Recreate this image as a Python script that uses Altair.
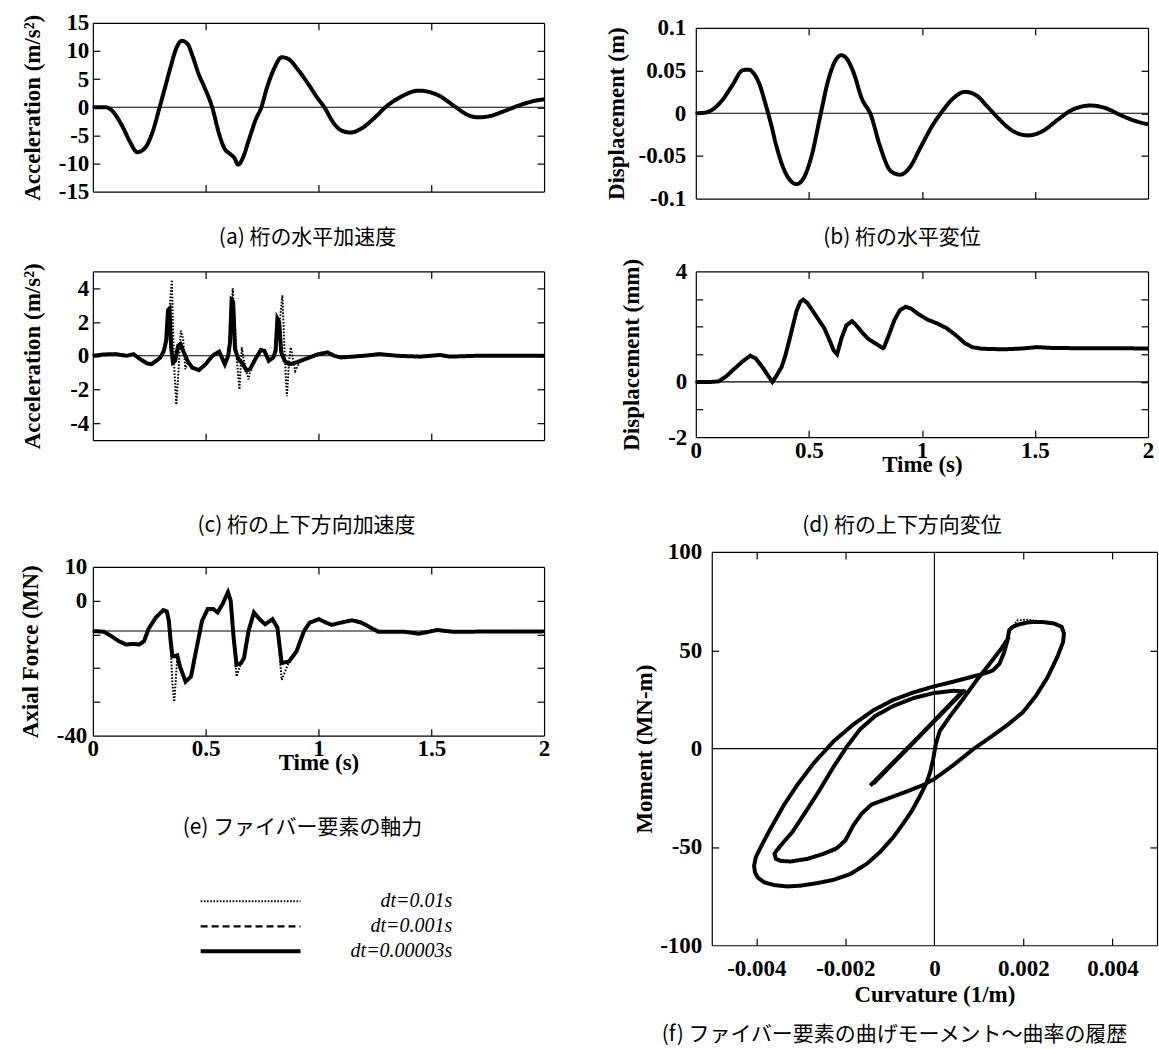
import altair as alt
import pandas as pd

FONT = "Liberation Serif"
JFONT = "Noto Sans CJK JP"

SERIES = ["dt=0.01s", "dt=0.001s", "dt=0.00003s"]
DASHES = [[1.6, 1.6], [7, 4], [1, 0]]
WIDTHS = [2.0, 2.2, 4.0]

# (a) horizontal acceleration of girder
A_T = [0, 0.057, 0.082, 0.131, 0.164, 0.197, 0.230, 0.263, 0.296, 0.320, 0.345, 0.369, 0.394, 0.419, 0.443,
       0.468, 0.493, 0.529, 0.558, 0.583, 0.608, 0.627, 0.644, 0.665, 0.690, 0.722, 0.747, 0.772, 0.805, 0.837,
       0.870, 0.903, 0.952, 0.993, 1.026, 1.067, 1.100, 1.141, 1.190, 1.248, 1.297, 1.363, 1.445, 1.527, 1.609,
       1.658, 1.708, 1.757, 1.823, 1.888, 1.954, 2.0]
A_V = [0, 0, -0.5, -3.4, -6.1, -8.0, -7.3, -4.6, 0, 3.5, 7.2, 10.4, 11.8, 11.3, 9.0, 6.0, 3.7, 0, -4.5, -7.3,
       -8.3, -9.0, -10.2, -9.0, -6.0, -2.2, 0, 3.5, 7.0, 8.9, 8.5, 7.0, 4.3, 1.8, 0, -2.8, -4.1, -4.5, -3.8, -1.9,
       0, 1.8, 2.95, 2.2, 0, -1.3, -1.8, -1.6, -0.7, 0.3, 1.1, 1.4]

# (b) horizontal displacement of girder
B_T = [0, 0.038, 0.078, 0.119, 0.160, 0.209, 0.234, 0.258, 0.283, 0.307, 0.332, 0.356, 0.397, 0.446, 0.479,
       0.512, 0.553, 0.585, 0.618, 0.643, 0.667, 0.700, 0.733, 0.774, 0.814, 0.863, 0.904, 0.945, 0.994, 1.043,
       1.092, 1.141, 1.191, 1.240, 1.289, 1.338, 1.403, 1.469, 1.534, 1.599, 1.665, 1.746, 1.812, 1.877, 1.943, 2.0]
B_V = [0, 0.0005, 0.005, 0.016, 0.032, 0.0505, 0.051, 0.046, 0.033, 0.012, -0.012, -0.038, -0.070, -0.083,
       -0.075, -0.050, 0, 0.038, 0.062, 0.068, 0.064, 0.046, 0.018, -0.002, -0.038, -0.068, -0.072, -0.064,
       -0.040, -0.016, 0.003, 0.018, 0.025, 0.021, 0.008, -0.006, -0.021, -0.026, -0.021, -0.008, 0.004, 0.009,
       0.006, -0.002, -0.009, -0.013]

# (c) vertical acceleration of girder
C_T = [0, 0.05, 0.10, 0.15, 0.18, 0.21, 0.24, 0.26, 0.28, 0.30, 0.315, 0.325, 0.333, 0.340, 0.347, 0.355, 0.365,
       0.378, 0.388, 0.40, 0.42, 0.44, 0.47, 0.50, 0.53, 0.56, 0.585, 0.60, 0.608, 0.615, 0.622, 0.630, 0.645,
       0.665, 0.680, 0.697, 0.72, 0.745, 0.76, 0.78, 0.80, 0.810, 0.818, 0.826, 0.835, 0.85, 0.87, 0.89, 0.92,
       0.96, 1.00, 1.04, 1.07, 1.10, 1.20, 1.27, 1.35, 1.45, 1.54, 1.58, 1.70, 2.00]
C_S = [0, 0.08, 0.1, 0.0, 0.1, -0.2, -0.45, -0.5, -0.3, -0.1, 0.3, 0.9, 2.7, 2.8, 0.5, -0.4, -0.3, 0.6, 0.7, 0.3,
       -0.3, -0.7, -0.85, -0.5, 0.0, 0.25, -0.5, 0.0, 0.8, 3.3, 3.2, 0.4, -0.2, -0.5, -0.85, -0.8, -0.2, 0.35, 0.3,
       -0.3, -0.1, 0.3, 2.2, 2.0, 0.2, -0.3, -0.5, -0.45, -0.3, -0.1, 0.1, 0.2, 0.0, -0.1, 0.0, 0.1, 0.0, -0.05,
       0.05, -0.05, 0, 0]
C_DT = [0, 0.05, 0.10, 0.15, 0.18, 0.21, 0.24, 0.26, 0.28, 0.30, 0.32, 0.33, 0.34, 0.35, 0.36, 0.37, 0.38, 0.39,
        0.40, 0.41, 0.42, 0.44, 0.47, 0.50, 0.53, 0.56, 0.585, 0.60, 0.61, 0.62, 0.63, 0.64, 0.65, 0.66, 0.67,
        0.68, 0.69, 0.70, 0.72, 0.745, 0.76, 0.78, 0.80, 0.81, 0.82, 0.83, 0.84, 0.85, 0.86, 0.87, 0.877, 0.887,
        0.897, 0.92, 0.96, 1.00, 1.04, 1.07, 1.10, 1.20, 1.27, 1.35, 1.45, 1.54, 1.58, 1.70, 2.00]
C_D = [0, 0.08, 0.1, 0.0, 0.1, -0.2, -0.45, -0.5, -0.3, -0.1, 0.4, 1.0, 2.8, 4.5, -0.5, -2.9, -0.8, 1.5, 1.0,
       -0.8, -0.4, -0.7, -0.85, -0.5, 0.0, 0.25, -0.5, 0.0, 1.5, 4.0, 1.8, -0.5, -2.0, 0.5, -0.3, -0.9, -1.4,
       -0.7, -0.2, 0.35, 0.3, -0.3, -0.1, 0.3, 1.0, 2.2, 3.6, 0.2, -2.4, -0.3, 0.5, -0.2, -0.9, -0.3, -0.1, 0.1,
       0.2, 0.0, -0.1, 0.0, 0.1, 0.0, -0.05, 0.05, -0.05, 0, 0]

# (d) vertical displacement of girder
D_T = [0, 0.069, 0.101, 0.134, 0.167, 0.208, 0.241, 0.265, 0.298, 0.322, 0.339, 0.355, 0.380, 0.396, 0.421,
       0.445, 0.462, 0.475, 0.494, 0.519, 0.543, 0.568, 0.592, 0.609, 0.625, 0.645, 0.666, 0.691, 0.715, 0.740,
       0.764, 0.789, 0.813, 0.830, 0.854, 0.879, 0.903, 0.928, 0.953, 0.985, 1.026, 1.067, 1.108, 1.149, 1.190,
       1.223, 1.264, 1.362, 1.444, 1.509, 1.574, 1.689, 1.852, 2.0]
D_V = [0, 0, 0.02, 0.2, 0.45, 0.75, 0.95, 0.85, 0.5, 0.2, 0.0, 0.2, 0.55, 0.95, 1.75, 2.55, 2.9, 2.98, 2.85,
       2.55, 2.25, 1.95, 1.5, 1.15, 1.0, 1.6, 2.05, 2.2, 2.0, 1.75, 1.55, 1.42, 1.3, 1.2, 1.7, 2.25, 2.6, 2.72,
       2.65, 2.45, 2.25, 2.12, 1.95, 1.7, 1.4, 1.26, 1.2, 1.18, 1.21, 1.26, 1.23, 1.22, 1.22, 1.21]

# (e) axial force of fiber element
E_T = [0, 0.049, 0.082, 0.115, 0.148, 0.181, 0.205, 0.227, 0.246, 0.279, 0.312, 0.328, 0.337, 0.345, 0.353,
       0.361, 0.374, 0.386, 0.411, 0.435, 0.460, 0.484, 0.509, 0.534, 0.553, 0.575, 0.599, 0.611, 0.624, 0.637,
       0.657, 0.670, 0.690, 0.714, 0.739, 0.764, 0.796, 0.818, 0.837, 0.870, 0.903, 0.936, 0.961, 1.002, 1.034,
       1.059, 1.100, 1.149, 1.190, 1.232, 1.264, 1.379, 1.445, 1.527, 1.593, 2.0]
E_S = [-9, -9.2, -10.5, -12, -13, -12.8, -13, -12, -8.5, -5, -2.8, -3.2, -6, -12, -16.5, -16.5, -16.2, -19.5,
       -24, -22.5, -14, -6, -2.5, -2.5, -3.5, -1, 2.5, 0, -11, -19, -18.5, -17, -9, -3.5, -5.5, -7, -5.5, -8,
       -18.5, -18, -15, -9, -6.5, -5.5, -6.5, -7.2, -6.5, -5.8, -6.5, -8, -9.2, -9.2, -9.8, -8.7, -9.2, -9.1]
E_D = [-9, -9.2, -10.5, -12, -13, -12.8, -13, -12, -8.5, -5, -2.8, -3.2, -6, -14, -25, -30, -17, -19.5, -24,
       -22.5, -14, -6, -2.5, -2.5, -3.5, -1, 2.5, 0, -12, -22.5, -18.5, -17, -9, -3.5, -5.5, -7, -5.5, -8, -23.5,
       -18, -15, -9, -6.5, -5.5, -6.5, -7.2, -6.5, -5.8, -6.5, -8, -9.2, -9.2, -9.8, -8.7, -9.2, -9.1]
E_BASE = -9

# (f) moment-curvature history, path segments
S1_K = [-0.00144, 0.00068, -0.00137, 0.00063]
S1_M = [-18.8, 29.7, -17.8, 29.1]
S2_K = [0.00042, -0.00003, -0.00048, -0.00092, -0.00133, -0.00167, -0.00196, -0.00226, -0.00260, -0.00289,
        -0.00319, -0.00342, -0.00356, -0.00359]
S2_M = [29.4, 28.2, 25.6, 21.7, 16.6, 9.8, 1.2, -9.1, -21.9, -32.1, -42.4, -48.4, -52.3, -53.5]
S3_K = [-0.00356, -0.00345, -0.00323, -0.00286, -0.00249, -0.00219, -0.00200, -0.00182, -0.00163, -0.00141,
        -0.00100, -0.00063, -0.00025, 0.0, 0.00042, 0.00086, 0.00124, 0.00161, 0.00198, 0.00228, 0.00254,
        0.00276, 0.00289, 0.00291]
S3_M = [-56.1, -57.1, -57.4, -56.1, -53.5, -50.6, -46.7, -39.0, -33.0, -28.4, -25.0, -21.9, -18.5, -15.4, -8.5,
        -0.5, 5.5, 11.5, 18.3, 26.8, 36.2, 46.5, 54.2, 58.5]
S3D_K = [-0.00356, -0.00345, -0.00323, -0.00286, -0.00249, -0.00224, -0.00205, -0.00182, -0.00163, -0.00141,
         -0.00100, -0.00063, -0.00025, 0.0, 0.00042, 0.00086, 0.00124, 0.00161, 0.00198, 0.00228, 0.00254,
         0.00276, 0.00289, 0.00291]
S3D_M = [-56.1, -57.1, -57.4, -56.1, -53.5, -52.0, -47.5, -39.0, -33.0, -28.4, -25.0, -21.9, -18.5, -15.4, -8.5,
         -0.5, 5.5, 11.5, 18.3, 26.8, 36.2, 46.5, 54.2, 58.5]
S4_K = [0.00286, 0.00269, 0.00243, 0.00213, 0.00190, 0.00176, 0.00168]
S4_M = [61.9, 63.6, 64.4, 64.3, 63.2, 61.9, 60.2]
S4D_K = [0.00286, 0.00269, 0.00243, 0.00211, 0.00186, 0.00176, 0.00168]
S4D_M = [61.9, 63.6, 64.4, 65.6, 65.2, 61.9, 60.2]
S5_K = [0.00164, 0.00157, 0.00146, 0.00131, 0.00116, 0.00079, 0.00042, -0.00003, -0.00048, -0.00092, -0.00137,
        -0.00182, -0.00226, -0.00271, -0.00308, -0.00338, -0.00368, -0.00390, -0.00401, -0.00405]
S5_M = [55.0, 49.1, 43.1, 39.7, 38.5, 36.2, 34.0, 31.5, 28.5, 24.8, 19.5, 12.3, 3.8, -7.4, -18.5, -28.7, -40.7,
        -50.1, -55.2, -59.5]
S6_K = [-0.00403, -0.00397, -0.00382, -0.00360, -0.00330, -0.00301, -0.00263, -0.00226, -0.00189, -0.00152,
        -0.00122, -0.00092, -0.00070, -0.00051, -0.00033, -0.00018, -0.00009, -0.00003, 0.00003, 0.00012, 0.00034,
        0.00064, 0.00094, 0.00124, 0.00150, 0.00168]
S6_M = [-62.9, -65.5, -68.0, -69.4, -70.1, -69.7, -68.4, -66.7, -63.8, -58.6, -52.6, -45.0, -38.1, -31.8, -24.4,
        -17.6, -11.6, -5.6, 2.1, 8.9, 16.1, 25.1, 34.5, 43.1, 50.8, 56.8]
S6D_K = [-0.00403, -0.00397, -0.00382, -0.00360, -0.00330, -0.00301, -0.00263, -0.00226, -0.00189, -0.00152,
         -0.00122, -0.00095, -0.00077, -0.00051, -0.00033, -0.00018, -0.00009, -0.00003, 0.00003, 0.00012,
         0.00034, 0.00064, 0.00094, 0.00124, 0.00150, 0.00168]
S6D_M = [-62.9, -65.5, -68.0, -69.4, -70.1, -69.7, -68.4, -66.7, -63.8, -58.6, -52.6, -45.8, -39.6, -31.8, -24.4,
         -17.6, -11.6, -5.6, 2.1, 8.9, 16.1, 25.1, 34.5, 43.1, 50.8, 56.8]

F_K = S1_K + S2_K + S3_K + S4_K + S5_K + S6_K
F_M = S1_M + S2_M + S3_M + S4_M + S5_M + S6_M
F_DK = S1_K + S2_K + S3D_K + S4D_K + S5_K + S6D_K
F_DM = S1_M + S2_M + S3D_M + S4D_M + S5_M + S6D_M

TIME_TICKS = [0.5, 1, 1.5]
TIME_LABELS = [0, 0.5, 1, 1.5, 2]
TICK = 7


def frame(series_lists):
    rows = []
    for name, (xs, ys) in zip(SERIES, series_lists):
        for i, (x, y) in enumerate(zip(xs, ys)):
            rows.append({"x": x, "y": y, "series": name, "i": i})
    return pd.DataFrame(rows)


def guide(orient, vals=None, offset=0, ticks=False, domain=False):
    kw = dict(orient=orient, offset=offset, labels=False, grid=False, title=None, domain=domain,
              domainColor="black", domainWidth=1.2, ticks=ticks)
    if ticks:
        kw.update(values=vals, tickSize=TICK, tickWidth=1.2, tickColor="black")
    return alt.Axis(**kw)


def panel(df, xdom, ydom, xt, yt, ylab, ytitle, ytx, w, h, cap, cap_off, cap_dx, ml=0, mt=0, xlab=None,
          xtitle=None, xlpad=2, xtpad=-9, ylpad=6, hline=None, vline=None, interp="linear", ordered=False,
          legend=None):
    xs = alt.Scale(domain=xdom, nice=False, zero=False, range=[ml, ml + w])
    ys = alt.Scale(domain=ydom, nice=False, zero=False, range=[mt + h, mt])
    if xlab:
        main_x = alt.Axis(orient="bottom", values=xlab, ticks=False, tickSize=0, domain=True, domainColor="black",
                          domainWidth=1.2, grid=False, labelPadding=xlpad, labelFlush=False, labelOverlap=False,
                          labelExpr="'' + datum.value", title=xtitle, titlePadding=xtpad)
    else:
        main_x = guide("bottom", domain=True)
    main_y = alt.Axis(orient="left", offset=-ml, values=ylab, ticks=False, tickSize=0, domain=True,
                      domainColor="black", domainWidth=1.2, grid=False, labelPadding=ylpad,
                      labelExpr="'' + datum.value", labelOverlap=False, title=ytitle, titleX=ytx,
                      titleBaseline="middle", titleAngle=270)
    layers = []
    if hline is not None:
        layers.append(alt.Chart(pd.DataFrame({"h": [hline], "a": [xdom[0]], "b": [xdom[1]]}))
                      .mark_rule(color="black", strokeWidth=1.1)
                      .encode(y=alt.Y("h:Q", scale=ys, axis=None), x=alt.X("a:Q", scale=xs, axis=None), x2="b:Q"))
    if vline is not None:
        layers.append(alt.Chart(pd.DataFrame({"v": [vline], "a": [ydom[0]], "b": [ydom[1]]}))
                      .mark_rule(color="black", strokeWidth=1.1)
                      .encode(x=alt.X("v:Q", scale=xs, axis=None), y=alt.Y("a:Q", scale=ys, axis=None), y2="b:Q"))
    enc = dict(
        x=alt.X("x:Q", scale=xs, axis=main_x),
        y=alt.Y("y:Q", scale=ys, axis=main_y),
        strokeDash=alt.StrokeDash("series:N", scale=alt.Scale(domain=SERIES, range=DASHES), legend=legend),
        strokeWidth=alt.StrokeWidth("series:N", scale=alt.Scale(type="ordinal", domain=SERIES, range=WIDTHS),
                                    legend=legend),
    )
    if ordered:
        enc["order"] = alt.Order("i:Q")
    layers.append(alt.Chart(df).mark_line(color="black", interpolate=interp).encode(**enc))
    one = df.iloc[:1]
    layers.append(alt.Chart(one).mark_point(opacity=0).encode(
        x=alt.X("x:Q", scale=xs, axis=guide("bottom", xt, -TICK, ticks=True)),
        y=alt.Y("y:Q", scale=ys, axis=guide("left", yt, -ml - TICK, ticks=True))))
    layers.append(alt.Chart(one).mark_point(opacity=0).encode(
        x=alt.X("x:Q", scale=xs, axis=guide("top", xt, -mt - TICK, ticks=True)),
        y=alt.Y("y:Q", scale=ys, axis=guide("right", yt, -TICK, ticks=True))))
    layers.append(alt.Chart(one).mark_point(opacity=0).encode(
        x=alt.X("x:Q", scale=xs, axis=guide("top", offset=-mt, domain=True)),
        y=alt.Y("y:Q", scale=ys, axis=guide("right", offset=0, domain=True))))
    return alt.layer(*layers).resolve_axis(x="independent", y="independent").properties(
        width=ml + w, height=mt + h,
        title=alt.TitleParams(cap, orient="bottom", frame="group", offset=cap_off, dx=cap_dx, baseline="top",
                              anchor="middle", font=JFONT, fontSize=21, fontWeight="normal", color="black"))


LEG = alt.Legend(title=None, orient="none", legendX=-456, legendY=379, direction="vertical",
                 symbolType="M-10,0H10", symbolSize=100, symbolStrokeColor="black", symbolFillColor="transparent",
                 labelFont=FONT, labelFontSize=20, labelFontStyle="italic", labelFontWeight="normal",
                 labelColor="black", labelAlign="right", labelOffset=192, labelLimit=300, rowPadding=5, padding=0)

dfA = frame([(A_T, A_V), (A_T, A_V), (A_T, A_V)])
dfB = frame([(B_T, B_V), (B_T, B_V), (B_T, B_V)])
dfC = frame([(C_DT, C_D), (C_T, C_S), (C_T, C_S)])
dfD = frame([(D_T, D_V), (D_T, D_V), (D_T, D_V)])
dfE = frame([(E_T, E_D), (E_T, E_S), (E_T, E_S)])
dfF = frame([(F_DK, F_DM), (F_K, F_M), (F_K, F_M)])

pa = panel(dfA, [0, 2], [-15, 15], TIME_TICKS, [-10, -5, 0, 5, 10], [-15, -10, -5, 0, 5, 10, 15],
           "Acceleration (m/s²)", -60, 452, 169, "(a) 桁の水平加速度", 24, -11, hline=0, interp="monotone",
           ylpad=4)
pb = panel(dfB, [0, 2], [-0.1, 0.1], TIME_TICKS, [-0.05, 0, 0.05], [-0.1, -0.05, 0, 0.05, 0.1],
           "Displacement (m)", -79, 453, 171, "(b) 桁の水平変位", 17, -20, mt=5, hline=0, interp="monotone",
           ylpad=10)
pc = panel(dfC, [0, 2], [-5, 5], TIME_TICKS, [-4, -2, 0, 2, 4], [-4, -2, 0, 2, 4],
           "Acceleration (m/s²)", -60, 452, 169, "(c) 桁の上下方向加速度", 66, -12, hline=0, ylpad=4)
pd_ = panel(dfD, [0, 2], [-2, 4], TIME_TICKS, [-1, 0, 1, 2, 3], [-2, 0, 4],
            "Displacement (mm)", -64, 453, 166, "(d) 桁の上下方向変位", 39, -20, xlab=TIME_LABELS,
            xtitle="Time (s)", hline=0, ylpad=9)
pe = panel(dfE, [0, 2], [-40, 10], TIME_TICKS, [-30, -20, -10, 0], [-40, 0, 10],
           "Axial Force (MN)", -62, 452, 169, "(e) ファイバー要素の軸力", 43, -16, mt=54, xlab=TIME_LABELS,
           xtitle="Time (s)", hline=E_BASE, ylpad=6)
pf = panel(dfF, [-0.005, 0.005], [-100, 100], [-0.004, -0.002, 0.002, 0.004], [-50, 50],
           [-100, -50, 0, 50, 100], "Moment (MN-m)", -67, 446, 394,
           "(f) ファイバー要素の曲げモーメント～曲率の履歴", 18, -32, ml=16, mt=39,
           xlab=[-0.004, -0.002, 0, 0.002, 0.004], xtitle="Curvature (1/m)", xlpad=12, xtpad=3,
           hline=0, vline=0, ordered=True, ylpad=10, legend=LEG)

chart = alt.concat(pa, pb, pc, pd_, pe, pf, columns=2, spacing={"row": 73, "column": 152}, bounds="flush").resolve_scale(
    strokeDash="independent", strokeWidth="independent"
).properties(
    padding={"left": 19, "top": 10, "right": 0, "bottom": 0}, background="white"
).configure_axis(
    labelFont=FONT, labelFontSize=23, labelFontWeight="bold", labelColor="black",
    titleFont=FONT, titleFontSize=23, titleFontWeight="bold", titleColor="black"
).configure_view(stroke="transparent")

chart.save("out.html", embed_options={"renderer": "svg", "actions": False})
